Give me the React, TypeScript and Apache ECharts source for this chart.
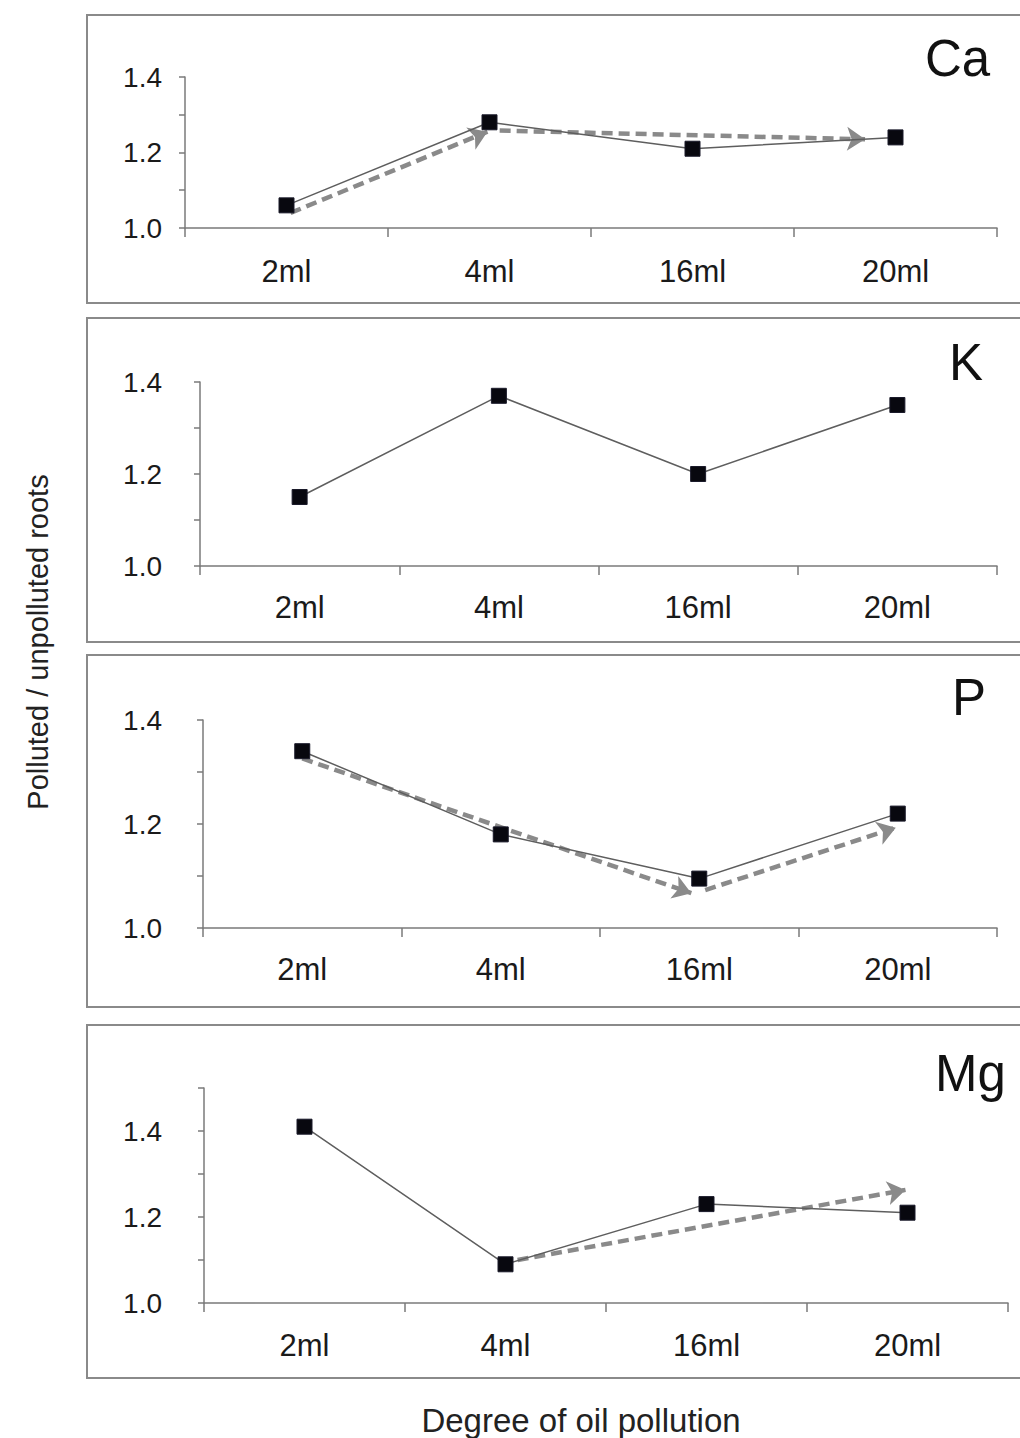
import React, { useEffect, useRef } from "react";
import * as echarts from "echarts";

// ---- data ----
const categories = ["2ml", "4ml", "16ml", "20ml"];
const elementNames = ["Ca", "K", "P", "Mg"];
const caValues = [1.06, 1.28, 1.21, 1.24];
const kValues = [1.15, 1.37, 1.2, 1.35];
const pValues = [1.34, 1.18, 1.095, 1.22];
const mgValues = [1.41, 1.09, 1.23, 1.21];
const yMin = 1.0;
const yStep = 0.1;
const yMaxima = [1.4, 1.4, 1.4, 1.5];
// trend arrows: [xStart, yStart, xEnd, yEnd], x in category-index units (0 = 2ml)
const caTrend = [
  [0.02, 1.04, 0.99, 1.255],
  [1.05, 1.258, 2.85, 1.235],
];
const kTrend: number[][] = [];
const pTrend = [
  [0.0, 1.326, 1.96, 1.067],
  [2.03, 1.073, 2.99, 1.193],
];
const mgTrend = [[1.06, 1.1, 2.99, 1.263]];
const yAxisTitle = "Polluted / unpolluted roots";
const xAxisTitle = "Degree of oil pollution";

const seriesValues = [caValues, kValues, pValues, mgValues];
const trends = [caTrend, kTrend, pTrend, mgTrend];

// ---- layout ----
const grids = [
  { left: 185, top: 77, width: 812, height: 151, labelMargin: 23, xMargin: 28 },
  { left: 200, top: 382, width: 797, height: 184, labelMargin: 38, xMargin: 26 },
  { left: 203, top: 720, width: 794, height: 208, labelMargin: 41, xMargin: 26 },
  { left: 204, top: 1088, width: 804, height: 215, labelMargin: 42, xMargin: 27 },
];
const boxes = [
  { y: 15, h: 288 },
  { y: 318, h: 324 },
  { y: 655, h: 352 },
  { y: 1025, h: 353 },
];
const namePos = [
  { x: 925, y: 58 },
  { x: 949, y: 362 },
  { x: 952, y: 697 },
  { x: 935, y: 1073 },
];

const FONT = "'Liberation Sans', Arial, Helvetica, sans-serif";
const AXIS_COLOR = "#7a7a7a";

export default function App() {
  const ref = useRef<HTMLDivElement>(null);
  useEffect(() => {
    if (!ref.current) return;
    const chart = echarts.init(ref.current, undefined, { renderer: "svg" });

    const xAxes: any[] = [];
    const yAxes: any[] = [];
    const series: any[] = [];

    grids.forEach((g, i) => {
      xAxes.push({
        type: "category",
        gridIndex: i,
        data: categories,
        boundaryGap: true,
        axisLine: { show: true, onZero: false, lineStyle: { color: AXIS_COLOR, width: 1.5 } },
        axisTick: { show: true, alignWithLabel: false, length: 9, lineStyle: { color: AXIS_COLOR, width: 1.5 } },
        axisLabel: { color: "#1a1a1a", fontFamily: FONT, fontSize: 31, margin: g.xMargin },
        splitLine: { show: false },
      });
      xAxes.push({
        type: "value",
        gridIndex: i,
        min: -0.5,
        max: 3.5,
        show: false,
        axisLine: { onZero: false },
      });
      yAxes.push({
        type: "value",
        gridIndex: i,
        min: yMin,
        max: yMaxima[i],
        interval: yStep,
        axisLine: { show: true, onZero: false, lineStyle: { color: AXIS_COLOR, width: 1.5 } },
        axisTick: { show: true, length: 6, lineStyle: { color: AXIS_COLOR, width: 1.5 } },
        splitLine: { show: false },
        axisLabel: {
          color: "#1a1a1a",
          fontFamily: FONT,
          fontSize: 28,
          margin: g.labelMargin,
          formatter: (v: number) => {
            const t = Math.round(v * 10);
            return t % 2 === 0 ? (t / 10).toFixed(1) : "";
          },
        },
      });
      series.push({
        type: "lines",
        coordinateSystem: "cartesian2d",
        xAxisIndex: 2 * i + 1,
        yAxisIndex: i,
        z: 2,
        symbol: ["none", "arrow"],
        symbolSize: 18,
        lineStyle: { color: "#8a8a8a", width: 4.5, type: [11, 6], opacity: 1 },
        data: trends[i].map((t) => ({ coords: [[t[0], t[1]], [t[2], t[3]]] })),
      });
      series.push({
        type: "line",
        xAxisIndex: 2 * i,
        yAxisIndex: i,
        z: 3,
        data: seriesValues[i],
        symbol: "rect",
        symbolSize: 15,
        itemStyle: { color: "#08080f", borderColor: "#1a1a2a", borderWidth: 1 },
        lineStyle: { color: "#5e5e5e", width: 1.5 },
      });
    });

    const graphics: any[] = [];
    boxes.forEach((b) => {
      graphics.push({
        type: "rect",
        shape: { x: 87, y: b.y, width: 960, height: b.h },
        style: { fill: "none", stroke: "#8a8a8a", lineWidth: 2 },
        silent: true,
      });
    });
    elementNames.forEach((n, i) => {
      graphics.push({
        type: "text",
        x: namePos[i].x,
        y: namePos[i].y,
        style: {
          text: n,
          fontFamily: FONT,
          fontSize: 51,
          fill: "#111",
          verticalAlign: "middle",
          align: "left",
        },
      });
    });
    graphics.push({
      type: "text",
      x: 38,
      y: 642,
      rotation: Math.PI / 2,
      style: {
        text: yAxisTitle,
        fontFamily: FONT,
        fontSize: 29,
        fill: "#222",
        align: "center",
        verticalAlign: "middle",
      },
    });
    graphics.push({
      type: "text",
      x: 581,
      y: 1420,
      style: {
        text: xAxisTitle,
        fontFamily: FONT,
        fontSize: 33,
        fill: "#222",
        align: "center",
        verticalAlign: "middle",
      },
    });

    chart.setOption({
      animation: false,
      backgroundColor: "#ffffff",
      grid: grids.map((g) => ({ left: g.left, top: g.top, width: g.width, height: g.height, containLabel: false })),
      xAxis: xAxes,
      yAxis: yAxes,
      series,
      graphic: graphics,
    });
    return () => chart.dispose();
  }, []);

  return (
    <div
      ref={ref}
      style={{ position: "absolute", left: 0, top: 0, width: 1020, height: 1438, background: "#fff" }}
    />
  );
}
